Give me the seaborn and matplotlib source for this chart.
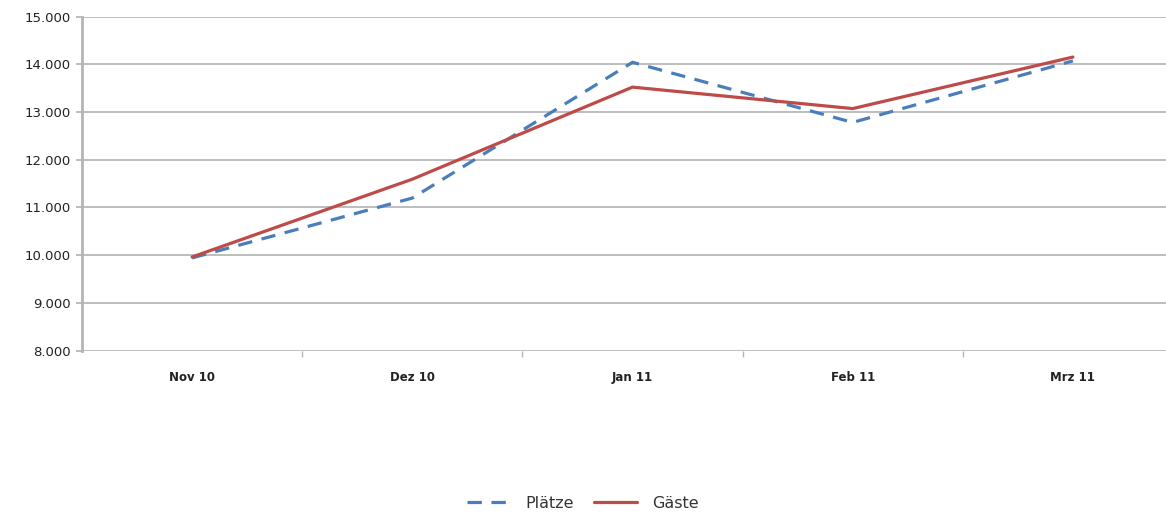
import matplotlib
matplotlib.use("Agg")
import matplotlib.pyplot as plt
import seaborn as sns
import pandas as pd
from matplotlib.ticker import FuncFormatter, FixedLocator

months = ["Nov 10", "Dez 10", "Jan 11", "Feb 11", "Mrz 11"]
plaetze = [9940, 11195, 14040, 12780, 14070]
gaeste = [9960, 11590, 13520, 13070, 14150]
series_names = ["Plätze", "Gäste"]

df = pd.DataFrame({
    "Monat": months * 2,
    "Wert": plaetze + gaeste,
    "Serie": [series_names[0]] * len(months) + [series_names[1]] * len(months),
})

sns.set_style("white")
plt.rcParams["font.family"] = ["DejaVu Sans"]

fig = plt.figure(figsize=(11.66, 5.12), dpi=100)
ax = fig.add_axes([82 / 1166, 161.5 / 512, 1101 / 1166, 334 / 512])

palette = {"Plätze": "#4a7ebb", "Gäste": "#be4b48"}
sns.lineplot(data=df, x="Monat", y="Wert", hue="Serie", style="Serie",
             palette=palette, dashes={"Plätze": (4.5, 3), "Gäste": ""},
             linewidth=2.3, ax=ax, sort=False)

ax.set_xlim(-0.5, 4.5)
ax.set_ylim(8000, 15000)
ax.yaxis.set_major_locator(FixedLocator(list(range(8000, 15001, 1000))))
ax.yaxis.set_major_formatter(FuncFormatter(lambda v, p: f"{int(v):,}".replace(",", ".")))
ax.set_xlabel("")
ax.set_ylabel("")

ax.grid(axis="y", color="#b8b8b8", linewidth=1.3)
ax.grid(axis="x", visible=False)
ax.set_axisbelow(True)
for s in ["top", "right", "bottom"]:
    ax.spines[s].set_visible(False)
ax.spines["left"].set_color("#b4b4b4")
ax.spines["left"].set_linewidth(2.0)

ax.set_xticks(range(len(months)))
ax.set_xticklabels(months, fontsize=8.5, fontweight="bold", color="#222222")
ax.tick_params(axis="x", which="major", length=0, pad=15, bottom=True)
ax.set_xticks([0.5, 1.5, 2.5, 3.5], minor=True)
ax.tick_params(axis="x", which="minor", length=4, width=1, color="#b4b4b4", bottom=True)
ax.tick_params(axis="y", which="major", length=4, width=1.3, color="#b8b8b8",
               labelsize=9.5, labelcolor="#222222", pad=4, left=True)

handles, labels = ax.get_legend_handles_labels()
ax.get_legend().remove()
leg = fig.legend(handles, labels, loc="center", bbox_to_anchor=(583 / 1166, 1 - 503 / 512),
                 ncol=2, frameon=False, fontsize=11.5, handlelength=2.7,
                 columnspacing=1.2, handletextpad=1.0)
for t in leg.get_texts():
    t.set_color("#333333")

fig.savefig("out.png", dpi=100)
